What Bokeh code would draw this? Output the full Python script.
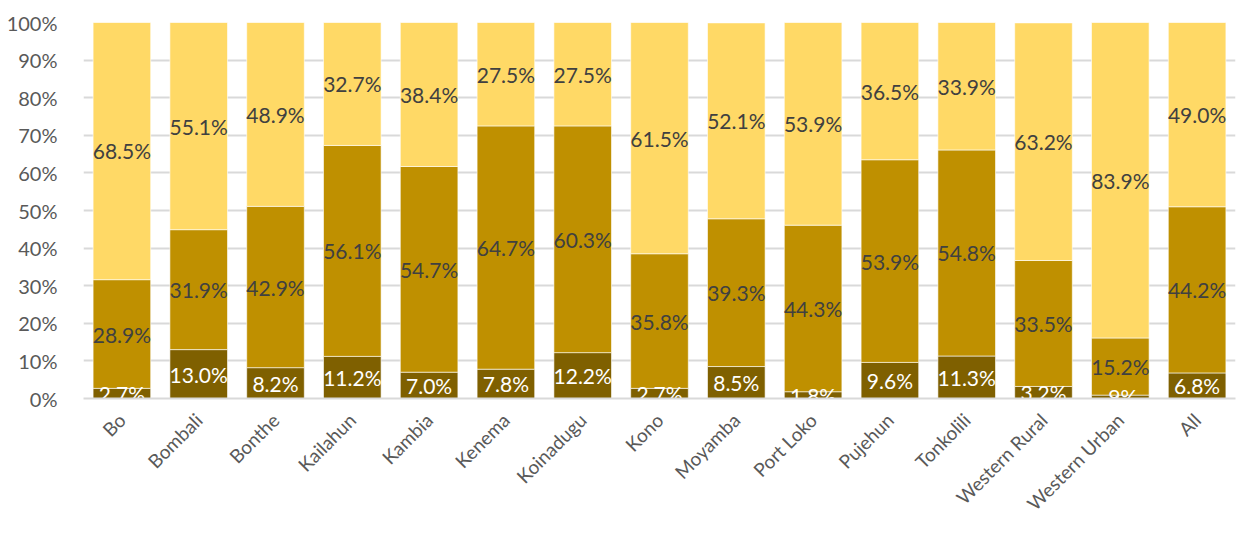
from bokeh.plotting import figure
from bokeh.models import ColumnDataSource, Range1d, FactorRange, FixedTicker, Legend, LegendItem
from bokeh.core.properties import value
from bokeh.embed import file_html
from bokeh.resources import INLINE
import math

districts = ["Bo", "Bombali", "Bonthe", "Kailahun", "Kambia", "Kenema", "Koinadugu", "Kono",
             "Moyamba", "Port Loko", "Pujehun", "Tonkolili", "Western Rural", "Western Urban", "All"]
poor = [2.7, 13.0, 8.2, 11.2, 7.0, 7.8, 12.2, 2.7, 8.5, 1.8, 9.6, 11.3, 3.2, 0.9, 6.8]
borderline = [28.9, 31.9, 42.9, 56.1, 54.7, 64.7, 60.3, 35.8, 39.3, 44.3, 53.9, 54.8, 33.5, 15.2, 44.2]
acceptable = [68.5, 55.1, 48.9, 32.7, 38.4, 27.5, 27.5, 61.5, 52.1, 53.9, 36.5, 33.9, 63.2, 83.9, 49.0]
poor_labels = ["2.7%", "13.0%", "8.2%", "11.2%", "7.0%", "7.8%", "12.2%", "2.7%", "8.5%", "1.8%",
               "9.6%", "11.3%", "3.2%", ".9%", "6.8%"]
y_ticks = [0, 10, 20, 30, 40, 50, 60, 70, 80, 90, 100]
series_names = ["Poor", "Borderline", "Acceptable"]
colors = ["#7F6000", "#BF9000", "#FFD966"]

FONT = "Lato"

src = ColumnDataSource(dict(x=districts, Poor=poor, Borderline=borderline, Acceptable=acceptable))

p = figure(x_range=FactorRange(*districts), y_range=Range1d(0, 100),
           frame_width=1152, frame_height=376, output_backend="svg", toolbar_location=None,
           min_border_left=83, min_border_right=1, min_border_top=22, min_border_bottom=0)
p.outline_line_color = None

rs = p.vbar_stack(series_names, x="x", width=0.75, color=colors, source=src,
                  line_color="white", line_width=0.6)

def mids(bottoms, vals):
    return [b + v / 2 for b, v in zip(bottoms, vals)]

zeros = [0] * len(districts)
b2 = poor
b3 = [a + b for a, b in zip(poor, borderline)]
lab_sets = [
    (mids(zeros, poor), poor_labels, "white"),
    (mids(b2, borderline), ["%.1f%%" % v for v in borderline], "#404040"),
    (mids(b3, acceptable), ["%.1f%%" % v for v in acceptable], "#404040"),
]
for ys, labs, col in lab_sets:
    s = ColumnDataSource(dict(x=districts, y=ys, t=labs))
    p.text(x="x", y="y", text="t", source=s, text_align="center", text_baseline="middle",
           text_font=value(FONT), text_font_size="21px", text_color=col)

p.yaxis.ticker = FixedTicker(ticks=y_ticks)
p.yaxis.major_label_overrides = {t: "%d%%" % t for t in y_ticks}
p.yaxis.axis_line_color = None
p.yaxis.major_tick_line_color = None
p.yaxis.minor_tick_line_color = None
p.yaxis.major_label_standoff = 20
p.yaxis.major_label_text_font = FONT
p.yaxis.major_label_text_font_size = "20px"
p.yaxis.major_label_text_color = "#595959"

p.xaxis.axis_line_color = "#D9D9D9"
p.xaxis.axis_line_width = 2
p.xaxis.major_tick_line_color = None
p.xaxis.major_label_orientation = math.pi / 4
p.xaxis.major_label_standoff = 12
p.xaxis.major_label_text_font = FONT
p.xaxis.major_label_text_font_size = "19px"
p.xaxis.major_label_text_color = "#595959"

p.xgrid.grid_line_color = None
p.ygrid.grid_line_color = "#D9D9D9"
p.ygrid.grid_line_width = 2

legend = Legend(items=[LegendItem(label=n, renderers=[r]) for n, r in zip(series_names, rs)],
                orientation="horizontal", location="center",
                label_text_font=FONT, label_text_font_size="21px", label_text_color="#595959",
                glyph_width=13, glyph_height=13, label_standoff=8, spacing=24, label_height=20,
                padding=0, margin=0, border_line_color=None, background_fill_alpha=0)
p.add_layout(legend, "below")

open("out.html", "w").write(file_html(p, INLINE))
